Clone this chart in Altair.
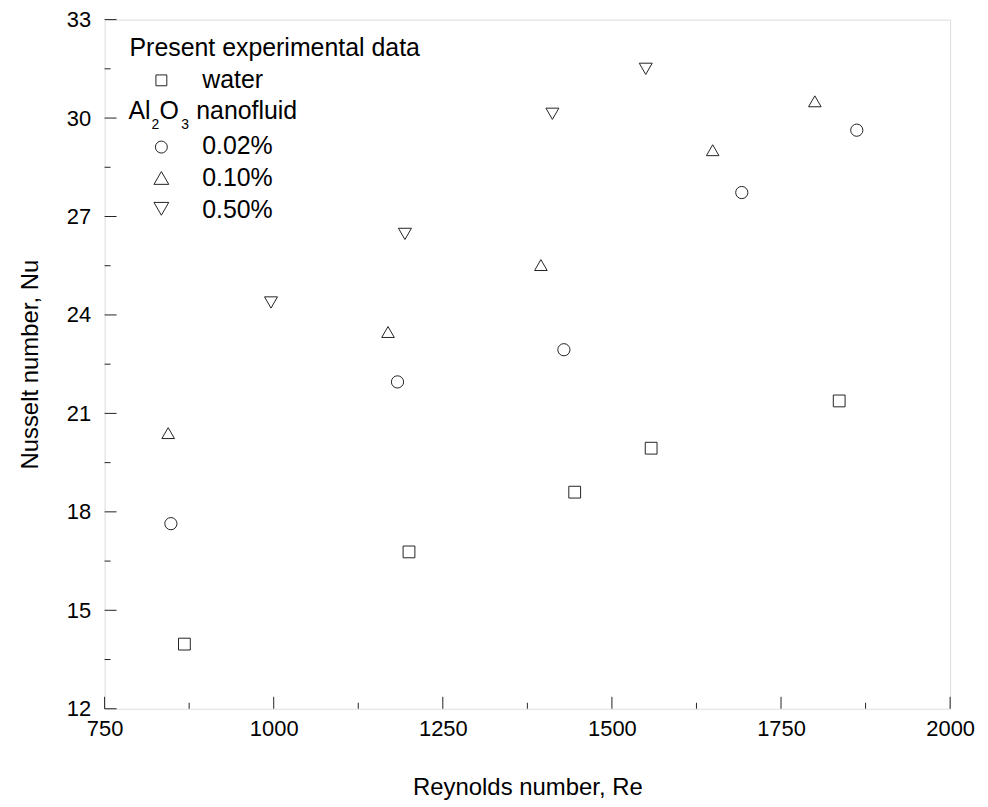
import altair as alt
import pandas as pd

# ---- data ----
water_re = [868, 1200, 1445, 1558, 1836]
water_nu = [13.97, 16.78, 18.60, 19.94, 21.38]
al002_re = [848, 1183, 1429, 1692, 1862]
al002_nu = [17.64, 21.96, 22.94, 27.73, 29.63]
al010_re = [844, 1169, 1395, 1649, 1800]
al010_nu = [20.40, 23.48, 25.52, 29.02, 30.51]
al050_re = [996, 1194, 1412, 1550]
al050_nu = [24.38, 26.47, 30.13, 31.50]

series_names = ["water", "0.02%", "0.10%", "0.50%"]
series_shapes = ["square", "circle", "triangle-up", "triangle-down"]
series_sizes = [140, 170, 260, 260]

x_major = [750, 1000, 1250, 1500, 1750, 2000]
x_minor = [875, 1125, 1375, 1625, 1875]
y_major = [12, 15, 18, 21, 24, 27, 30, 33]
y_minor = [13.5, 16.5, 19.5, 22.5, 25.5, 28.5, 31.5]

FONT = "Liberation Sans"
INK = "#222222"
W, H = 849, 692

rows = []
for name, res, nus in zip(series_names,
                          [water_re, al002_re, al010_re, al050_re],
                          [water_nu, al002_nu, al010_nu, al050_nu]):
    for r, n in zip(res, nus):
        rows.append({"series": name, "Re": r, "Nu": n})
df = pd.DataFrame(rows)

xscale = alt.Scale(domain=[750, 2000], nice=False, zero=False)
yscale = alt.Scale(domain=[12, 33], nice=False, zero=False)

points = alt.Chart(df).mark_point(filled=False, stroke=INK, strokeWidth=1, opacity=1).encode(
    x=alt.X("Re:Q", scale=xscale,
            axis=alt.Axis(values=x_major, format="d", ticks=False, domain=False, grid=False,
                          labelFont=FONT, labelFontSize=22, labelColor="black", labelPadding=10,
                          labelFlush=False,
                          title="Reynolds number, Re", titleFont=FONT, titleFontSize=24,
                          titleFontWeight="normal", titleColor="black",
                          titleBaseline="alphabetic", titleY=86)),
    y=alt.Y("Nu:Q", scale=yscale,
            axis=alt.Axis(values=y_major, format="d", ticks=False, domain=False, grid=False,
                          labelFont=FONT, labelFontSize=22, labelColor="black", labelPadding=14,
                          labelFlush=False,
                          title="Nusselt number, Nu", titleFont=FONT, titleFontSize=24,
                          titleFontWeight="normal", titleColor="black",
                          titleBaseline="alphabetic", titleX=-67, titleY=H / 2, titleAngle=-90)),
    shape=alt.Shape("series:N", scale=alt.Scale(domain=series_names, range=series_shapes), legend=None),
    size=alt.Size("series:N", scale=alt.Scale(domain=series_names, range=series_sizes), legend=None),
)

# inward ticks
xmaj = alt.Chart(pd.DataFrame({"v": x_major})).mark_rule(color=INK, strokeWidth=1).encode(
    x=alt.X("v:Q", scale=xscale), y=alt.value(H), y2=alt.value(H - 12))
xmin = alt.Chart(pd.DataFrame({"v": x_minor})).mark_rule(color=INK, strokeWidth=1).encode(
    x=alt.X("v:Q", scale=xscale), y=alt.value(H), y2=alt.value(H - 6))
ymaj = alt.Chart(pd.DataFrame({"v": y_major})).mark_rule(color=INK, strokeWidth=1).encode(
    y=alt.Y("v:Q", scale=yscale), x=alt.value(0), x2=alt.value(12))
ymin = alt.Chart(pd.DataFrame({"v": y_minor})).mark_rule(color=INK, strokeWidth=1).encode(
    y=alt.Y("v:Q", scale=yscale), x=alt.value(0), x2=alt.value(6))

# custom legend
def txt(s, x, y, size=25):
    return alt.Chart(pd.DataFrame({"t": [s]})).mark_text(
        font=FONT, fontSize=size, align="left", baseline="alphabetic", color="black"
    ).encode(text="t:N", x=alt.value(x), y=alt.value(y))

legend_y = [79 - 18, 146 - 18, 177 - 18, 208 - 18]
legend_text_y = [87 - 18, 153 - 18, 185 - 18, 217 - 18]
legend_layers = [
    txt("Present experimental data", 130 - 105, 55 - 18),
    txt("Al", 129 - 105, 118 - 18),
    txt("2", 152 - 105, 128 - 18, 14),
    txt("O", 160 - 105, 118 - 18),
    txt("3", 182 - 105, 128 - 18, 14),
    txt("nanofluid", 197 - 105, 118 - 18),
]
for name, shp, sz, yy, ty in zip(series_names, series_shapes, series_sizes, legend_y, legend_text_y):
    legend_layers.append(
        alt.Chart(pd.DataFrame({"t": [name]})).mark_point(
            shape=shp, size=sz * 0.85, filled=False, stroke=INK, strokeWidth=1, opacity=1
        ).encode(x=alt.value(162 - 105), y=alt.value(yy))
    )
    legend_layers.append(txt(name, 203 - 105, ty))

chart = alt.layer(points, xmaj, xmin, ymaj, ymin, *legend_layers).properties(
    width=W, height=H,
    autosize=alt.AutoSizeParams(type="none"),
    padding={"left": 97, "top": 10, "right": 30, "bottom": 97},
).configure_view(stroke=INK, strokeWidth=1).configure(background="white")

chart.save("out.html", embed_options={"renderer": "svg", "actions": False})
